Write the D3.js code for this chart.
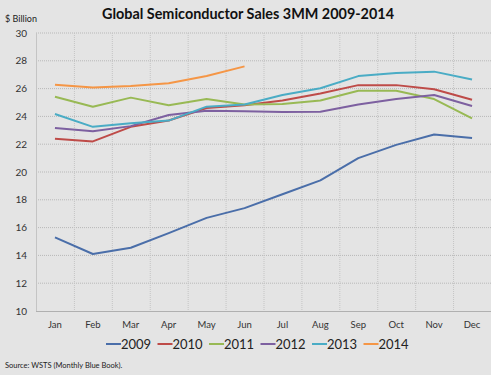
<!DOCTYPE html>
<html>
<head>
<meta charset="utf-8">
<script src="https://cdn.jsdelivr.net/npm/d3@7.9.0/dist/d3.min.js"></script>
<style>
  html, body { margin: 0; padding: 0; background: #e4e4e4; }
  svg { display: block; font-family: Lato, "Liberation Sans", Arial, sans-serif; }
</style>
</head>
<body>
<div id="chart"></div>
<script>
const months = ['Jan', 'Feb', 'Mar', 'Apr', 'May', 'Jun', 'Jul', 'Aug', 'Sep', 'Oct', 'Nov', 'Dec'];
const years = ['2009', '2010', '2011', '2012', '2013', '2014'];
const colors = ['#4a6ea9', '#be4b48', '#98b954', '#7d60a0', '#4aacc5', '#f59646'];

const sales2009 = [15.3, 14.1, 14.55, 15.6, 16.7, 17.4, 18.4, 19.4, 21.0, 21.95, 22.7, 22.45];
const sales2010 = [22.4, 22.2, 23.25, 23.7, 24.6, 24.8, 25.15, 25.65, 26.25, 26.25, 25.95, 25.2];
const sales2011 = [25.42, 24.7, 25.35, 24.8, 25.25, 24.85, 24.9, 25.15, 25.85, 25.85, 25.25, 23.85];
const sales2012 = [23.17, 22.93, 23.3, 24.1, 24.4, 24.37, 24.32, 24.34, 24.85, 25.25, 25.54, 24.75];
const sales2013 = [24.17, 23.25, 23.5, 23.7, 24.7, 24.85, 25.54, 26.02, 26.9, 27.12, 27.22, 26.65];
const sales2014 = [26.28, 26.08, 26.18, 26.38, 26.9, 27.6];
const yTicks = [10, 12, 14, 16, 18, 20, 22, 24, 26, 28, 30];

const series = [sales2009, sales2010, sales2011, sales2012, sales2013, sales2014];

const width = 491, height = 375;
const plot = { left: 36, right: 491, top: 33, bottom: 311 };

const svg = d3.select('#chart').append('svg')
  .attr('width', width).attr('height', height);

svg.append('rect').attr('width', width).attr('height', height).attr('fill', '#e4e4e4');

const x = d3.scaleBand().domain(months).range([plot.left, plot.right]);
const y = d3.scaleLinear().domain([10, 30]).range([plot.bottom, plot.top]);

// horizontal gridlines
svg.append('g')
  .selectAll('line')
  .data(yTicks.slice(1))
  .join('line')
  .attr('x1', plot.left).attr('x2', plot.right)
  .attr('y1', d => y(d)).attr('y2', d => y(d))
  .attr('stroke', '#b8b8b8').attr('stroke-width', 1)
  .attr('stroke-dasharray', '1,1');

// vertical gridlines at band edges
svg.append('g')
  .selectAll('line')
  .data(months)
  .join('line')
  .attr('x1', d => x(d) + 0.5).attr('x2', d => x(d) + 0.5)
  .attr('y1', plot.top).attr('y2', plot.bottom)
  .attr('stroke', '#c4c4c4').attr('stroke-width', 1)
  .attr('stroke-dasharray', d => d === 'Jan' ? null : '1,1');

// bottom axis line
svg.append('line')
  .attr('x1', plot.left).attr('x2', plot.right)
  .attr('y1', plot.bottom + 0.5).attr('y2', plot.bottom + 0.5)
  .attr('stroke', '#b0b0b0');

// y tick labels
svg.append('g')
  .selectAll('text')
  .data(yTicks)
  .join('text')
  .attr('x', 27).attr('y', d => y(d))
  .attr('dy', '0.35em')
  .attr('text-anchor', 'end')
  .attr('font-size', 10)
  .attr('fill', '#333')
  .text(d => d);

// x tick labels
svg.append('g')
  .selectAll('text')
  .data(months)
  .join('text')
  .attr('x', d => x(d) + x.bandwidth() / 2).attr('y', 328)
  .attr('text-anchor', 'middle')
  .attr('font-size', 9.5)
  .attr('fill', '#333')
  .text(d => d);

// lines
const line = d3.line()
  .x((d, i) => x(months[i]) + x.bandwidth() / 2)
  .y(d => y(d));

svg.append('g')
  .selectAll('path')
  .data(series)
  .join('path')
  .attr('d', d => line(d))
  .attr('fill', 'none')
  .attr('stroke', (d, i) => colors[i])
  .attr('stroke-width', 2)
  .attr('stroke-linejoin', 'round');

// title
svg.append('text')
  .attr('x', 248).attr('y', 19)
  .attr('text-anchor', 'middle')
  .attr('font-size', 15.5).attr('font-weight', 'bold')
  .attr('fill', '#111')
  .attr('textLength', 292).attr('lengthAdjust', 'spacingAndGlyphs')
  .text('Global Semiconductor Sales 3MM 2009-2014');

svg.append('text')
  .attr('x', 5).attr('y', 22)
  .attr('font-size', 9)
  .attr('fill', '#222')
  .text('$ Billion');

// legend
const legend = svg.append('g')
  .selectAll('g')
  .data(years)
  .join('g')
  .attr('transform', (d, i) => `translate(${106 + i * 51.5}, 344)`);

legend.append('line')
  .attr('x1', 0).attr('x2', 15)
  .attr('stroke', (d, i) => colors[i]).attr('stroke-width', 2);

legend.append('text')
  .attr('x', 15).attr('dy', '0.36em')
  .attr('font-size', 13)
  .attr('fill', '#222')
  .text(d => d);

svg.append('text')
  .attr('x', 5).attr('y', 368)
  .attr('font-size', 7.5)
  .attr('fill', '#222')
  .text('Source: WSTS (Monthly Blue Book).');
</script>
</body>
</html>
